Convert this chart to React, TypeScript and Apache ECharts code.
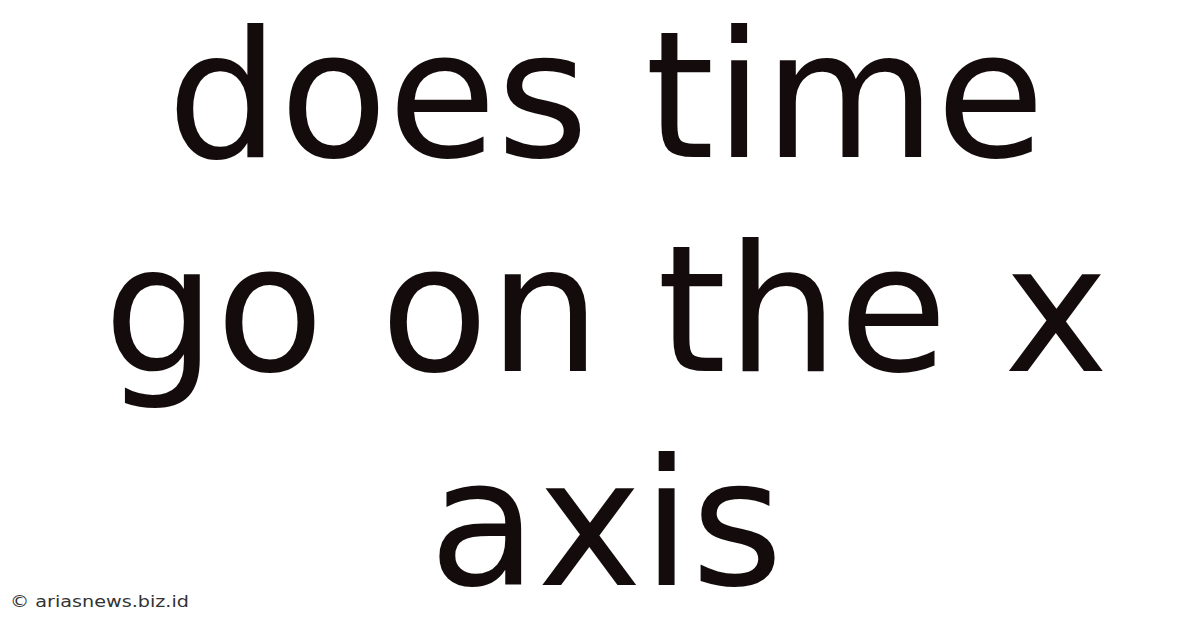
import React, { useEffect, useRef } from 'react';
import * as echarts from 'echarts';

// Text content of the picture
const titleLines = ['does time', 'go on the x', 'axis'];
const watermark = '© ariasnews.biz.id';

const App: React.FC = () => {
  const chartRef = useRef<HTMLDivElement>(null);

  useEffect(() => {
    if (!chartRef.current) return;
    const chart = echarts.init(chartRef.current, undefined, { renderer: 'svg' });

    const fontSize = 177;
    const firstBaseline = 157;
    const lineGap = 214;
    const central = 61; // distance from baseline up to the text's middle

    const options = {
      animation: false,
      backgroundColor: '#ffffff',
      graphic: [
        ...titleLines.map((line, i) => ({
          type: 'text',
          x: 606,
          y: firstBaseline + i * lineGap - central,
          style: {
            text: line,
            fill: '#140c0c',
            font: `${fontSize}px "DejaVu Sans"`,
            lineHeight: fontSize,
            textAlign: 'center',
            textVerticalAlign: 'middle',
          },
        })),
        {
          type: 'text',
          x: 10,
          y: 602,
          scaleX: 1.2,
          style: {
            text: watermark,
            fill: '#333333',
            font: '16px "DejaVu Sans"',
            textAlign: 'left',
            textVerticalAlign: 'middle',
          },
        },
      ],
    };

    chart.setOption(options);

    return () => {
      chart.dispose();
    };
  }, []);

  return (
    <div
      ref={chartRef}
      style={{ position: 'fixed', left: 0, top: 0, width: '1200px', height: '628px' }}
    />
  );
};

export default App;
